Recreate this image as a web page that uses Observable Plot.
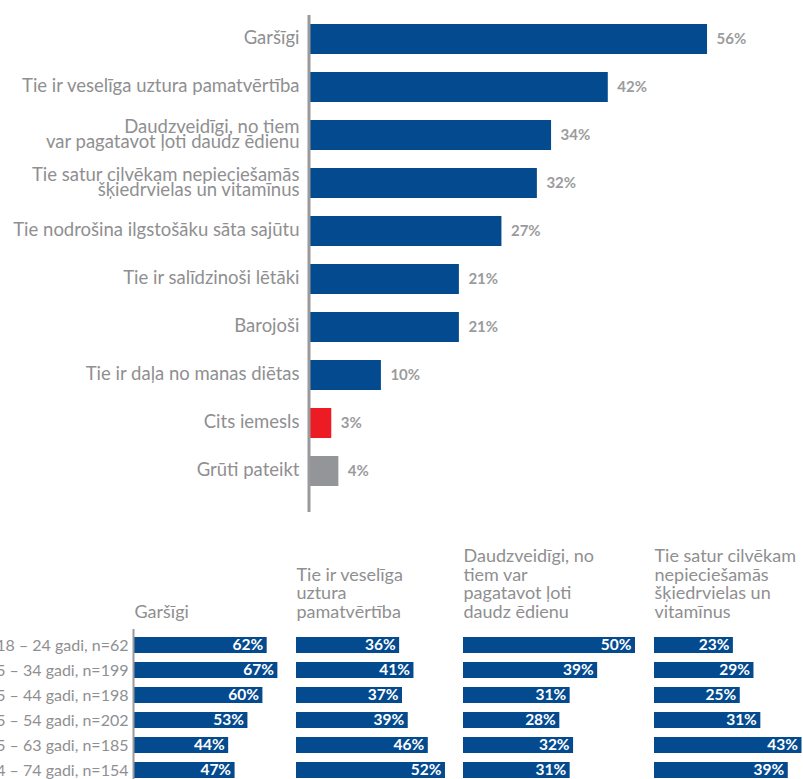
<!DOCTYPE html>
<html><head><meta charset="utf-8">
<script src="https://cdn.jsdelivr.net/npm/d3@7"></script>
<script src="https://cdn.jsdelivr.net/npm/@observablehq/plot@0.6"></script>
<style>
html,body{margin:0;padding:0;background:#fff;}
#wrap{position:relative;width:803px;height:779px;overflow:hidden;font-family:Lato,sans-serif;}
#wrap svg{position:absolute;overflow:hidden;}
</style></head><body><div id="wrap"></div>
<script>
// ---- data ----
const reasons = [
  "Garšīgi",
  "Tie ir veselīga uztura pamatvērtība",
  "Daudzveidīgi, no tiem\nvar pagatavot ļoti daudz ēdienu",
  "Tie satur cilvēkam nepieciešamās\nšķiedrvielas un vitamīnus",
  "Tie nodrošina ilgstošāku sāta sajūtu",
  "Tie ir salīdzinoši lētāki",
  "Barojoši",
  "Tie ir daļa no manas diētas",
  "Cits iemesls",
  "Grūti pateikt"
];
const shares = [56, 42, 34, 32, 27, 21, 21, 10, 3, 4];
const reasonKind = ["iemesls","iemesls","iemesls","iemesls","iemesls","iemesls","iemesls","iemesls","cits","grūti"];

const ageGroups = [
  "18 – 24 gadi, n=62",
  "25 – 34 gadi, n=199",
  "35 – 44 gadi, n=198",
  "45 – 54 gadi, n=202",
  "55 – 63 gadi, n=185",
  "64 – 74 gadi, n=154"
];
const panelTitles = [
  "Garšīgi",
  "Tie ir veselīga\nuztura\npamatvērtība",
  "Daudzveidīgi, no\ntiem var\npagatavot ļoti\ndaudz ēdienu",
  "Tie satur cilvēkam\nnepieciešamās\nšķiedrvielas un\nvitamīnus"
];
const tasty     = [62, 67, 60, 53, 44, 47];
const healthy   = [36, 41, 37, 39, 46, 52];
const versatile = [50, 39, 31, 28, 32, 31];
const nutrients = [23, 29, 25, 31, 43, 39];

// ---- styles ----
const BLUE = "#034a8f", RED = "#ed1c24", GREY_BAR = "#939598";
const TEXT = "#8f8f91", VALUE = "#9b9b9d", AXIS = "#9a9a9c";
const FONT = "Lato, sans-serif";

const wrap = document.getElementById("wrap");

// ---- top chart ----
const topData = reasons.map((r, i) => ({label: r, v: shares[i], kind: reasonKind[i]}));
const topPxPerPct = 7.09;
const topChart = Plot.plot({
  width: 803, height: 520,
  marginLeft: 310, marginRight: 0, marginTop: 15, marginBottom: 8,
  style: {fontFamily: FONT, background: "transparent"},
  x: {domain: [0, 493 / topPxPerPct], axis: null},
  y: {domain: reasons, range: [22, 488.7], paddingInner: 0.366, paddingOuter: 0, axis: null},
  color: {domain: ["iemesls", "cits", "grūti"], range: [BLUE, RED, GREY_BAR]},
  marks: [
    Plot.barX(topData, {x: "v", y: "label", fill: "kind"}),
    Plot.ruleX([0], {stroke: AXIS, strokeWidth: 3, dx: -1.5}),
    Plot.text(topData, {x: 0, y: "label", text: "label", textAnchor: "end", dx: -11,
      fill: TEXT, fontSize: 18.5, lineHeight: 0.82}),
    Plot.text(topData, {x: "v", y: "label", text: d => d.v + "%", textAnchor: "start", dx: 9,
      fill: VALUE, fontSize: 15, fontWeight: "bold"})
  ]
});
topChart.style.left = "0px";
topChart.style.top = "0px";
wrap.appendChild(topChart);

// ---- bottom panels ----
const panels = [
  {values: tasty,     title: panelTitles[0], left: 134, width: 150, pxPerPct: 2.14, labels: true},
  {values: healthy,   title: panelTitles[1], left: 296, width: 160, pxPerPct: 2.865, labels: false},
  {values: versatile, title: panelTitles[2], left: 463, width: 186, pxPerPct: 3.44, labels: false},
  {values: nutrients, title: panelTitles[3], left: 654, width: 149, pxPerPct: 3.43, labels: false}
];

panels.forEach(p => {
  const data = ageGroups.map((g, i) => ({g, v: p.values[i]}));
  const ml = p.labels ? p.left : 0;
  const svg = Plot.plot({
    width: ml + p.width, height: 245,
    marginLeft: ml, marginRight: 0, marginTop: 89, marginBottom: 0,
    style: {fontFamily: FONT, background: "transparent"},
    x: {domain: [0, p.width / p.pxPerPct], axis: null},
    y: {domain: ageGroups, range: [94.3, 240.6], paddingInner: 0.35, paddingOuter: 0, axis: null},
    marks: [
      Plot.barX(data, {x: "v", y: "g", fill: BLUE}),
      Plot.text(data, {x: "v", y: "g", text: d => d.v + "%", textAnchor: "end", dx: -4,
        fill: "white", fontWeight: "bold", fontSize: 15.5}),
      Plot.text([p.title], {frameAnchor: "top-left", text: d => d, textAnchor: "start",
        lineAnchor: "bottom", dy: -12, fill: TEXT, fontSize: 18, lineHeight: 1.02}),
      p.labels ? Plot.ruleX([0], {stroke: AXIS, strokeWidth: 2, dx: -1}) : null,
      p.labels ? Plot.text(data, {x: 0, y: "g", text: "g", textAnchor: "end", dx: -6,
        fill: TEXT, fontSize: 16}) : null
    ]
  });
  svg.style.left = (p.left - ml) + "px";
  svg.style.top = "540px";
  wrap.appendChild(svg);
});
</script>
</body></html>
